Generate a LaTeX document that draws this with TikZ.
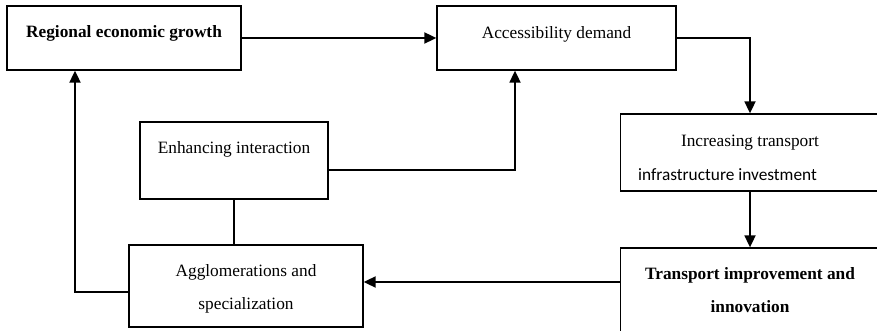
\documentclass[tikz,border=0pt]{standalone}
\usepackage{fontspec}
\setmainfont{Liberation Serif}
\newfontfamily\calfont{Carlito}
\usetikzlibrary{arrows.meta}
\tikzset{box/.style={draw,line width=1.3pt,inner sep=0pt,align=center},
  arr/.style={line width=1.8pt,-{Triangle[length=12pt,width=11pt]}},
  link/.style={line width=1.5pt}}

\begin{document}
\begin{tikzpicture}[x=1pt,y=-1pt,font=\fontsize{17.3}{33}\selectfont]
  \useasboundingbox (0,0) rectangle (877,331);
  \node(growth)[box,minimum width=234pt,minimum height=64pt,text height=12pt,text depth=12pt] at (124,38) {\textbf{Regional economic growth}};
  \node(demand)[box,minimum width=239pt,minimum height=64pt,text height=12pt,text depth=10pt] at (556.5,38) {Accessibility demand};
  \node(invest)[box,minimum width=259pt,minimum height=77pt,text height=55pt,text depth=0pt] at (750,152.5) {Increasing transport\\{\calfont infrastructure investment}\hspace*{45pt}};
  \node(improve)[box,minimum width=259pt,minimum height=88pt,text height=40pt,text depth=0pt] at (750,292) {\textbf{Transport improvement and}\\\textbf{innovation}};
  \node(agglo)[box,minimum width=234pt,minimum height=82pt,text height=46pt,text depth=0pt] at (246,286) {Agglomerations and\\specialization};
  \node(interact)[box,minimum width=188pt,minimum height=77pt,text height=12pt,text depth=25pt] at (234,160.5) {Enhancing interaction};

  \draw[arr] (growth) -- (demand);
  \draw[arr] (demand) -| (invest);
  \draw[arr] (invest) -- (improve);
  \draw[arr] ([yshift=10pt]improve.west) -- ([yshift=4pt]agglo.east);
  \draw[arr] ([yshift=-6pt]agglo.west) -| ([xshift=-49pt]growth.south);
  \draw[arr] ([yshift=-9.5pt]interact.east) -| ([xshift=-41.5pt]demand.south);
  \draw[link] (interact) -- (interact.south |- agglo.north);
\end{tikzpicture}
\end{document}
